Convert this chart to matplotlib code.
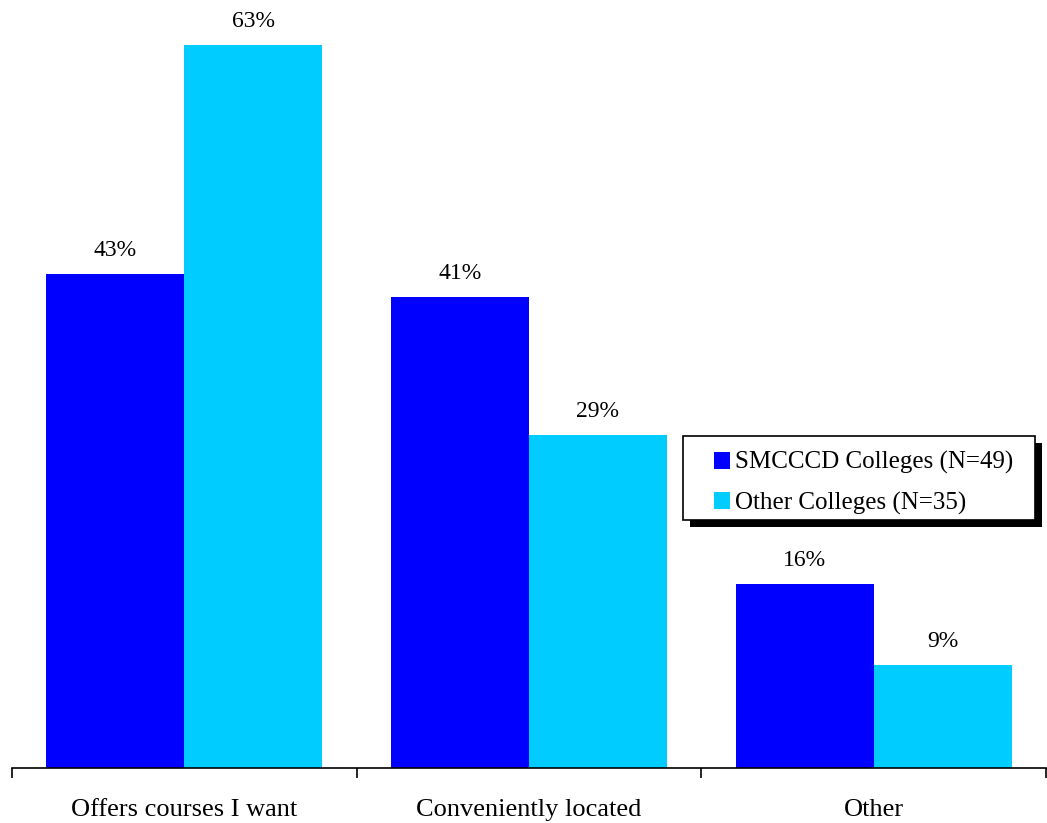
import matplotlib
matplotlib.use("Agg")
import matplotlib.pyplot as plt
from matplotlib.patches import Rectangle
import numpy as np

categories = ["Offers courses I want", "Conveniently located", "Other"]
smcccd = [43, 41, 16]
other = [63, 29, 9]
series_names = ["SMCCCD Colleges (N=49)", "Other Colleges (N=35)"]

plt.rcParams['font.family'] = ['Liberation Serif', 'DejaVu Serif']

W, H = 1047, 823
fig = plt.figure(figsize=(W / 100, H / 100), dpi=100)
ax = fig.add_axes([12 / W, (H - 768) / H, (1046 - 12) / W, (768 - 5) / H])

x = np.arange(len(categories))
bw = 0.4
b1 = ax.bar(x - bw / 2, smcccd, bw, color="#0000FF", label=series_names[0])
b2 = ax.bar(x + bw / 2, other, bw, color="#00CCFF", label=series_names[1])

for bars, vals in ((b1, smcccd), (b2, other)):
    for r, v in zip(bars, vals):
        ax.annotate(f"{v}%", (r.get_x() + r.get_width() / 2, v),
                    xytext=(0, 13), textcoords="offset points",
                    ha="center", va="baseline", fontsize=17)

ax.set_xlim(-0.5, len(categories) - 0.5)
ax.set_ylim(0, (768 - 5) / 11.48)
ax.set_yticks([])
for s in ("top", "right", "left"):
    ax.spines[s].set_visible(False)
ax.spines["bottom"].set_linewidth(1.2)

ax.set_xticks(np.arange(len(categories) + 1) - 0.5, minor=True)
ax.tick_params(axis="x", which="minor", length=7, width=1.2, direction="out")
ax.set_xticks(x)
ax.set_xticklabels(categories, fontsize=19)
ax.tick_params(axis="x", which="major", length=0, pad=22)

# legend box with a solid drop shadow
def fig_rect(x0, y0, x1, y1, **kw):
    return Rectangle((x0 / W, 1 - y1 / H), (x1 - x0) / W, (y1 - y0) / H,
                     transform=fig.transFigure, clip_on=False, **kw)

ax.add_artist(fig_rect(690, 443, 1042, 527, facecolor="black", edgecolor="none", zorder=3))
ax.add_artist(fig_rect(683, 436, 1035, 520, facecolor="white", edgecolor="black",
                       linewidth=1.2, zorder=4))

leg = ax.legend(loc="center left", bbox_to_anchor=(714 / W, 1 - 483 / H),
                bbox_transform=fig.transFigure,
                fontsize=18, frameon=False,
                handlelength=0.64, handleheight=0.64, handletextpad=0.2,
                borderpad=0, labelspacing=0.68, borderaxespad=0)
leg.set_zorder(6)

fig.savefig("out.png", dpi=100)
